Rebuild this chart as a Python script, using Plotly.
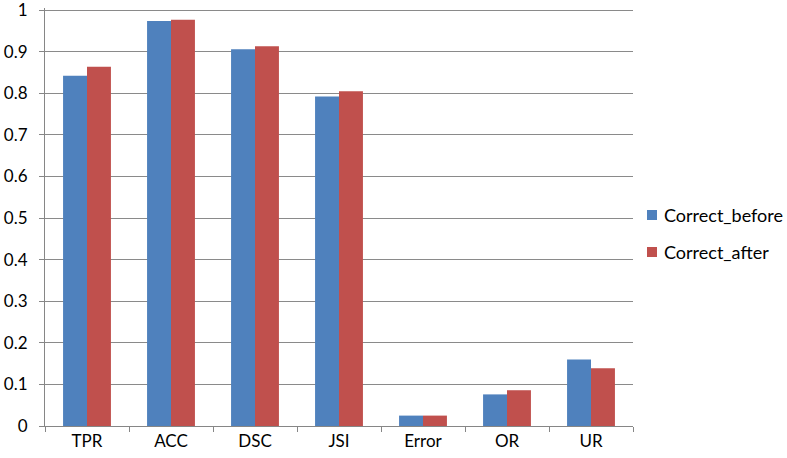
import plotly.graph_objects as go

categories = ["TPR", "ACC", "DSC", "JSI", "Error", "OR", "UR"]
correct_before = [0.842, 0.974, 0.906, 0.792, 0.025, 0.076, 0.160]
correct_after = [0.864, 0.977, 0.913, 0.805, 0.025, 0.086, 0.139]
series_names = ["Correct_before", "Correct_after"]
series_colors = ["#4F81BD", "#C0504D"]
y_ticks = [0, 0.1, 0.2, 0.3, 0.4, 0.5, 0.6, 0.7, 0.8, 0.9, 1]
y_tick_labels = ["0", "0.1", "0.2", "0.3", "0.4", "0.5", "0.6", "0.7", "0.8", "0.9", "1"]

font_family = "Lato, 'Open Sans', sans-serif"

W, H = 787, 458
L, R, T, B = 45, 154, 8, 32
PW, PH = W - L - R, H - T - B


def px_x(p):
    return (p - L) / PW


def px_y(p):
    return (H - B - p) / PH


fig = go.Figure()
for name, vals, col in zip(series_names, [correct_before, correct_after], series_colors):
    fig.add_trace(go.Bar(name=name, x=categories, y=vals,
                         marker=dict(color=col, line=dict(width=0)),
                         showlegend=False))

# manual legend (Excel-like layout)
legend_rows_y = [215, 252]
shapes, annotations = [], []
for name, col, yc in zip(series_names, series_colors, legend_rows_y):
    shapes.append(dict(type="rect", xref="paper", yref="paper",
                       x0=px_x(647), x1=px_x(657), y0=px_y(yc + 5), y1=px_y(yc - 5),
                       fillcolor=col, line=dict(width=0)))
    annotations.append(dict(text=name, xref="paper", yref="paper",
                            x=px_x(662), y=px_y(yc), xanchor="left", yanchor="middle",
                            showarrow=False, font=dict(size=18, family=font_family, color="#000")))

fig.update_layout(
    width=W, height=H,
    margin=dict(l=L, r=R, t=T, b=B, autoexpand=False),
    paper_bgcolor="white", plot_bgcolor="white",
    barmode="group", bargap=0.43, bargroupgap=0,
    font=dict(family=font_family, size=17, color="#000000"),
    showlegend=False,
    shapes=shapes, annotations=annotations,
    xaxis=dict(showline=True, linecolor="#868686", linewidth=1,
               ticks="outside", ticklen=5, tickcolor="#868686",
               tickson="boundaries", showgrid=False, tickfont=dict(size=17),
               automargin=False),
    yaxis=dict(range=[0, 1.005], tickvals=y_ticks, ticktext=y_tick_labels,
               showline=True, linecolor="#868686", linewidth=1,
               ticks="outside", ticklen=5, tickcolor="#868686",
               ticklabelstandoff=8, ticklabeloverflow="allow",
               showgrid=True, gridcolor="#8a8a8a", gridwidth=1,
               zeroline=False, tickfont=dict(size=17), automargin=False),
)

fig.write_html("out.html", config={"displayModeBar": False},
               post_script="document.body.style.margin='0';document.body.style.overflow='hidden';")
